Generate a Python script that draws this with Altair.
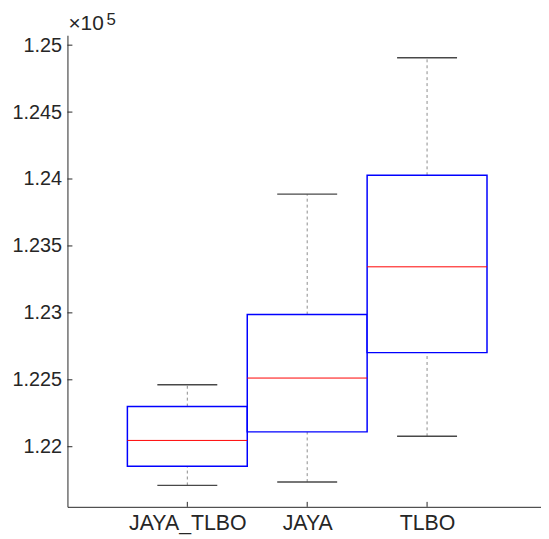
import json
import altair as alt
import pandas as pd

# Values in units of 1e5 (as shown on the axis)
categories = ["JAYA_TLBO", "JAYA", "TLBO"]
positions = [1, 2, 3]
lower_whisker = [1.21711, 1.21736, 1.22078]
q1 = [1.21854, 1.22111, 1.22703]
median = [1.22047, 1.22513, 1.23344]
q3 = [1.22300, 1.22987, 1.24028]
upper_whisker = [1.22463, 1.23887, 1.24906]
y_ticks = [1.22, 1.225, 1.23, 1.235, 1.24, 1.245, 1.25]

W, H = 478, 476
PX_PER_UNIT = 121
x_domain = [0, W / PX_PER_UNIT]
y_domain = [1.21551, 1.25074]

df = pd.DataFrame({
    "cat": categories, "pos": positions, "lo": lower_whisker, "q1": q1,
    "med": median, "q3": q3, "hi": upper_whisker,
})
df["left"] = df["pos"] - 0.5
df["right"] = df["pos"] + 0.5
df["capl"] = df["pos"] - 0.25
df["capr"] = df["pos"] + 0.25

label_expr = json.dumps(categories) + "[datum.value - 1]"

xs = alt.Scale(domain=x_domain, nice=False, zero=False)
ys = alt.Scale(domain=y_domain, nice=False, zero=False)

font = "Liberation Sans"
tc = "#262626"

base = alt.Chart(df)

boxes = base.mark_rect(fill="white", stroke="#0000FF", strokeWidth=1.5).encode(
    x=alt.X("left:Q", scale=xs, axis=alt.Axis(values=positions, labelExpr=label_expr,
                                              ticks=False, grid=False, title=None,
                                              labelPadding=6, domainColor=tc,
                                              labelFont=font, labelFontSize=21.5,
                                              labelColor=tc)),
    x2="right:Q",
    y=alt.Y("q1:Q", scale=ys, axis=alt.Axis(values=y_ticks, labelExpr="format(datum.value, '.4~g')",
                                            ticks=False, grid=False, title=None,
                                            labelPadding=6, domainColor=tc,
                                            labelFont=font, labelFontSize=20,
                                            labelColor=tc)),
    y2="q3:Q",
)

medians = base.mark_rule(color="#FF0000", strokeWidth=1).encode(
    x=alt.X("left:Q", scale=xs), x2="right:Q", y=alt.Y("med:Q", scale=ys)
)

whisk_up = base.mark_rule(color="#8c8c8c", strokeWidth=1, strokeDash=[3, 3]).encode(
    x=alt.X("pos:Q", scale=xs), y=alt.Y("q3:Q", scale=ys), y2="hi:Q"
)
whisk_lo = base.mark_rule(color="#8c8c8c", strokeWidth=1, strokeDash=[3, 3]).encode(
    x=alt.X("pos:Q", scale=xs), y=alt.Y("lo:Q", scale=ys), y2="q1:Q"
)
cap_up = base.mark_rule(color="#484848", strokeWidth=1.4).encode(
    x=alt.X("capl:Q", scale=xs), x2="capr:Q", y=alt.Y("hi:Q", scale=ys)
)
cap_lo = base.mark_rule(color="#484848", strokeWidth=1.4).encode(
    x=alt.X("capl:Q", scale=xs), x2="capr:Q", y=alt.Y("lo:Q", scale=ys)
)

ytick_df = pd.DataFrame({"v": y_ticks})
yticks = alt.Chart(ytick_df).mark_rule(color=tc, strokeWidth=1).encode(
    x=alt.value(0), x2=alt.value(5), y=alt.Y("v:Q", scale=ys)
)
xtick_df = pd.DataFrame({"p": positions})
xticks = alt.Chart(xtick_df).mark_rule(color=tc, strokeWidth=1).encode(
    x=alt.X("p:Q", scale=xs), y=alt.value(H), y2=alt.value(H - 5)
)

times = alt.Chart(pd.DataFrame({"t": ["\u00d710"]})).mark_text(
    align="left", baseline="alphabetic", font=font, fontSize=21, color=tc
).encode(x=alt.value(1), y=alt.value(-5), text="t:N")
expo = alt.Chart(pd.DataFrame({"t": ["5"]})).mark_text(
    align="left", baseline="alphabetic", font=font, fontSize=17, color=tc
).encode(x=alt.value(39.5), y=alt.value(-10.5), text="t:N")

chart = alt.layer(
    whisk_up, whisk_lo, cap_up, cap_lo, boxes, medians, yticks, xticks, times, expo
).properties(
    width=W, height=H,
    background="white",
    autosize=alt.AutoSizeParams(type="none"),
    padding={"left": 60, "top": 25, "right": 0, "bottom": 34},
).configure_view(stroke=None).configure_axis(
    labelFont=font, labelFontSize=20, labelColor=tc, domainWidth=1
)

chart.save("out.html", embed_options={"renderer": "svg", "actions": False})
